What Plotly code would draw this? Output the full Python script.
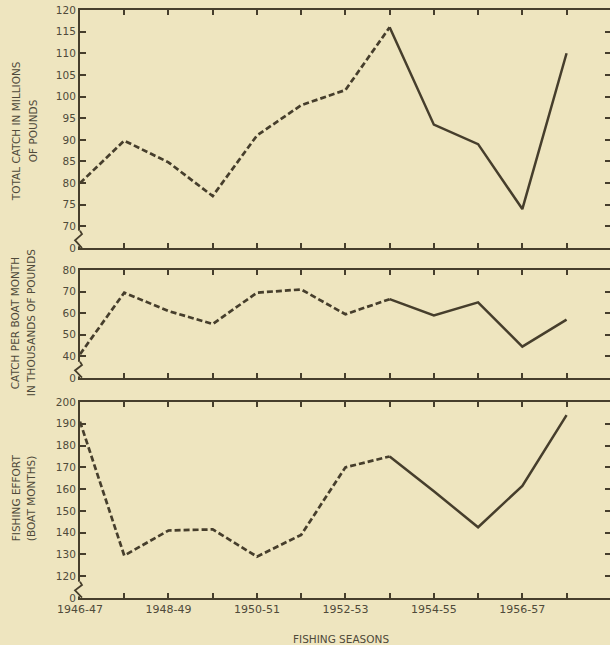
import plotly.graph_objects as go

seasons = ["1946-47", "1947-48", "1948-49", "1949-50", "1950-51", "1951-52",
           "1952-53", "1953-54", "1954-55", "1955-56", "1956-57", "1957-58"]
tick_labels = ["1946-47", "", "1948-49", "", "1950-51", "", "1952-53", "",
               "1954-55", "", "1956-57", ""]
total_catch = [80, 89.8, 84.8, 77, 91, 98, 101.5, 116, 93.5, 89, 74, 110]
catch_per_boat = [41, 69.5, 61, 55, 69.5, 71, 59.5, 66.5, 59, 65, 44.5, 57]
fishing_effort = [191, 129.5, 141, 141.5, 129, 139, 170, 175, 159, 142.5, 161.5, 194]
split = 7  # dashed up to 1953-54, solid afterwards

top_ticks = [65, 70, 75, 80, 85, 90, 95, 100, 105, 110, 115, 120]
top_text = ["0", "70", "75", "80", "85", "90", "95", "100", "105", "110", "115", "120"]
mid_ticks = [30, 40, 50, 60, 70, 80]
mid_text = ["0", "40", "50", "60", "70", "80"]
bot_ticks = [110, 120, 130, 140, 150, 160, 170, 180, 190, 200]
bot_text = ["0", "120", "130", "140", "150", "160", "170", "180", "190", "200"]

BG = "#EEE5BF"
INK = "#463e2c"
TXT = "#4f4a3a"
FONT = "DejaVu Sans"

fig = go.Figure()
panels = [("x", "y", total_catch), ("x2", "y2", catch_per_boat), ("x3", "y3", fishing_effort)]
for xa, ya, vals in panels:
    fig.add_trace(go.Scatter(x=seasons[:split + 1], y=vals[:split + 1], xaxis=xa, yaxis=ya,
                             mode="lines", line=dict(color=INK, width=2.7, dash="6px,3px"),
                             showlegend=False, hoverinfo="skip"))
    fig.add_trace(go.Scatter(x=seasons[split:], y=vals[split:], xaxis=xa, yaxis=ya,
                             mode="lines", line=dict(color=INK, width=2.5),
                             showlegend=False, hoverinfo="skip"))

H = 645
MB = 47
MT = 10
PH = H - MB - MT
def fy(px):
    return (H - MB - px) / PH

W = 613
ML = 80
PW = W - ML
STEP = 44.4
def fx(px):
    return (px - ML) / PW

xcommon = dict(type="category", categoryorder="array", categoryarray=seasons,
               range=[0, PW / STEP], showline=True, linecolor=INK, linewidth=2,
               mirror="ticks", ticks="inside", ticklen=5, tickwidth=1.5, tickcolor=INK,
               tickvals=seasons, ticktext=tick_labels, showgrid=False, zeroline=False,
               tickfont=dict(family=FONT, size=11, color=TXT))
ycommon = dict(showline=True, linecolor=INK, linewidth=2, mirror="ticks",
               ticks="inside", ticklen=6, tickwidth=1.5, tickcolor=INK,
               showgrid=False, zeroline=False,
               tickfont=dict(family=FONT, size=10.5, color=TXT))

fig.update_layout(
    width=W, height=H,
    margin=dict(l=ML, r=0, t=MT, b=MB),
    paper_bgcolor=BG, plot_bgcolor=BG,
    xaxis=dict(**xcommon, anchor="y", showticklabels=False),
    xaxis2=dict(**xcommon, anchor="y2", showticklabels=False),
    xaxis3=dict(**xcommon, anchor="y3", showticklabels=True),
    yaxis=dict(**ycommon, domain=[fy(248), fy(10)], range=[65, 120],
               tickvals=top_ticks, ticktext=top_text, anchor="x"),
    yaxis2=dict(**ycommon, domain=[fy(378), fy(270)], range=[30, 80],
                tickvals=mid_ticks, ticktext=mid_text, anchor="x2"),
    yaxis3=dict(**ycommon, domain=[fy(598), fy(402)], range=[110, 200],
                tickvals=bot_ticks, ticktext=bot_text, anchor="x3"),
)

# broken-axis squiggles (x in plot-area fraction, y in data units)
breaks = [("y", 65, 69, [69, 68.2, 66.8, 65]),
          ("y2", 30, 37.5, [37.5, 36, 33.5, 30.2]),
          ("y3", 110, 117.5, [117.5, 116, 113.5, 110.2])]
for ya, lo, hi, ys in breaks:
    fig.add_shape(type="line", xref="paper", yref=ya,
                  x0=0, x1=0, y0=lo + (hi - lo) * 0.1, y1=hi,
                  line=dict(color=BG, width=4))
    pts = [(0, ys[0]), (2 / PW, ys[1]), (-5 / PW, ys[2]), (2 / PW, ys[3])]
    path = "M " + " L ".join(f"{px:.5f},{py}" for px, py in pts)
    fig.add_shape(type="path", xref="paper", yref=ya,
                  path=path, line=dict(color=INK, width=1.8))

titles = [
    ("TOTAL CATCH IN MILLIONS", 16, 131),
    ("OF POUNDS", 33, 131),
    ("CATCH PER BOAT MONTH", 15, 323),
    ("IN THOUSANDS OF POUNDS", 31, 323),
    ("FISHING EFFORT", 16, 498),
    ("(BOAT MONTHS)", 31, 498),
]
for text, px, py in titles:
    fig.add_annotation(text=text, xref="paper", yref="paper", x=fx(px), y=fy(py),
                       xanchor="center", yanchor="middle", textangle=-90, showarrow=False,
                       font=dict(family=FONT, size=10.5, color=TXT))

fig.add_annotation(text="FISHING SEASONS", xref="paper", yref="paper", x=fx(342), y=fy(639),
                   xanchor="center", yanchor="middle", showarrow=False,
                   font=dict(family=FONT, size=10.5, color=TXT))

fig.write_html("out.html", config={"displayModeBar": False},
               post_script="document.body.style.margin='0';document.body.style.overflow='hidden';")
